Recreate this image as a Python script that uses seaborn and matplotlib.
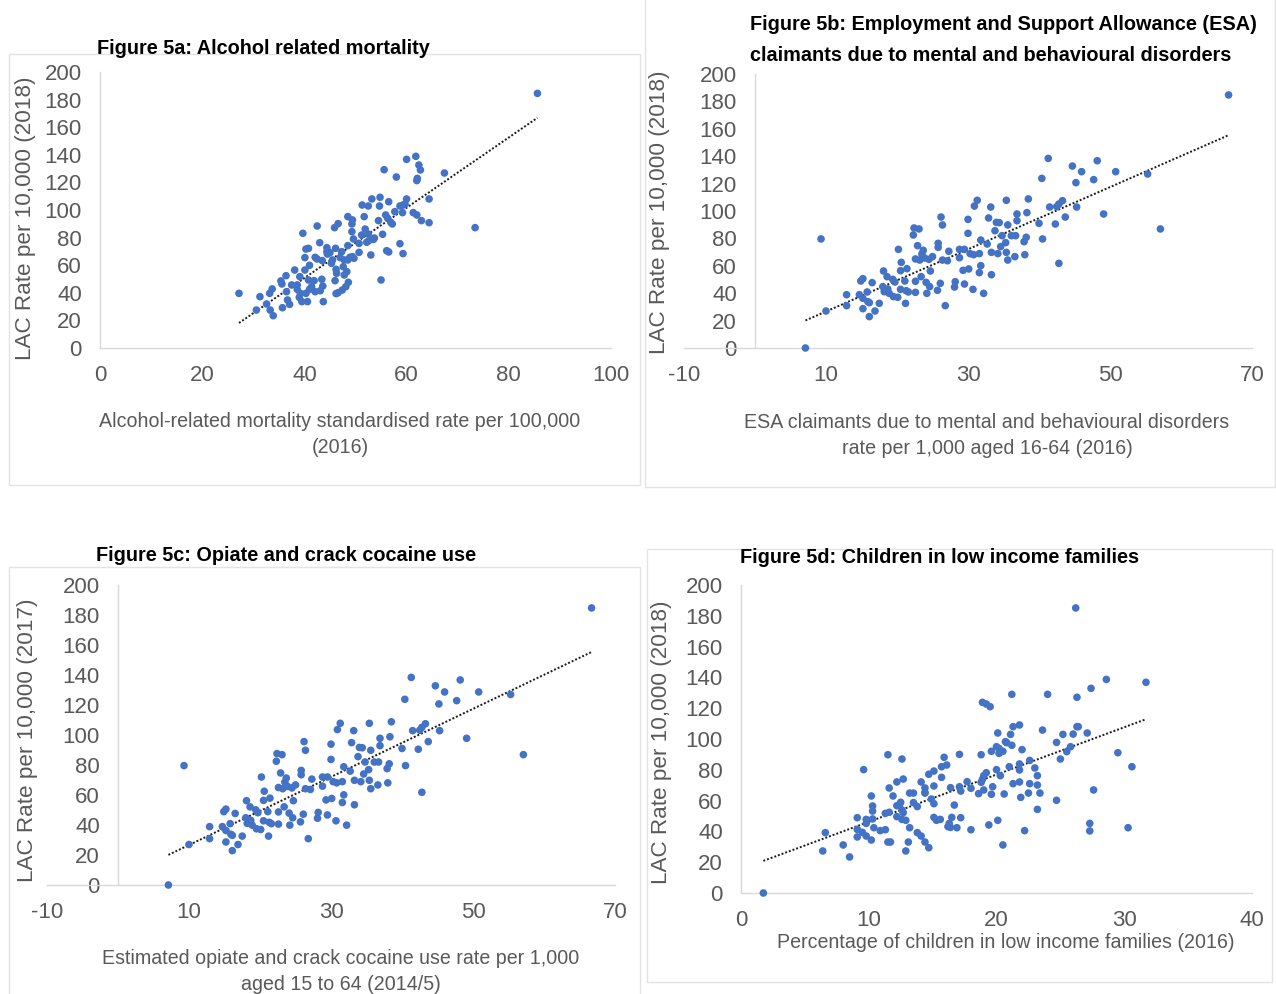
import matplotlib
matplotlib.use("Agg")
import matplotlib.pyplot as plt
from matplotlib import font_manager
from matplotlib.patches import Rectangle
import numpy as np
import pandas as pd
import seaborn as sns

# ---------------- data ----------------
alcohol_rate = [85.6, 60.0, 61.8, 55.6, 62.4, 62.7, 67.4, 58.0, 62.1, 62.0,
                54.8, 53.2, 60.0, 64.4, 51.3, 52.5, 54.7, 56.5, 58.7, 59.3, 59.7,
                48.5, 49.4, 49.3, 51.7, 55.9, 56.3, 57.7, 59.2, 61.3, 62.0, 62.9, 64.4, 56.9, 57.2, 54.5, 42.5, 45.9, 46.6, 73.4,
                39.7, 49.3, 51.9, 51.2, 52.5, 55.3, 53.5, 49.6, 50.7, 52.2, 53.7, 52.6,
                43.0, 58.7, 48.5, 44.4, 46.1, 40.3, 40.8, 45.0, 44.5, 47.3, 53.0, 56.1, 56.5, 59.3, 50.7, 49.4, 49.7,
                40.1, 42.1, 42.5, 43.5, 45.5, 47.0, 47.8, 48.5, 48.9, 45.3,
                41.0, 38.1, 40.1, 46.2, 47.6, 48.3, 47.8, 46.3,
                36.4, 39.1, 35.4, 35.6, 37.5, 38.6, 40.8, 41.9, 43.4, 46.0, 48.6, 55.0,
                33.7, 33.2, 36.5, 38.6, 39.2, 41.0, 42.1, 43.1, 43.6, 48.1, 47.4, 46.6, 46.2,
                27.2, 31.3, 39.0, 39.5, 40.6, 36.7, 43.7, 32.6, 33.3, 30.6, 35.7, 37.1, 33.9,
                40.3, 41.4, 44.4]
alcohol_lac = [184.5, 136.7, 138.9, 129.2, 132.6, 129.0, 126.8, 123.9, 122.9, 121.3,
               109.2, 108.0, 108.0, 108.0, 103.6, 102.9, 102.9, 106.0, 102.9, 103.6, 104.3,
               95.2, 92.8, 89.9, 95.2, 96.4, 94.0, 98.8, 98.1, 98.1, 96.4, 92.3, 90.8, 91.1, 89.9, 92.3, 88.4, 87.2, 90.1, 87.2,
               83.1, 84.3, 86.2, 81.9, 82.6, 82.4, 78.7, 79.0, 75.8, 76.6, 79.7, 77.8,
               76.3, 75.6, 74.2, 72.7, 72.2, 71.7, 72.2, 69.1, 68.1, 69.8, 67.4, 70.5, 69.6, 68.4, 69.3, 66.2, 65.0,
               65.5, 65.7, 64.5, 63.3, 63.8, 65.5, 63.8, 63.8, 65.7, 61.4,
               59.9, 56.5, 56.5, 57.0, 58.9, 55.3, 52.9, 54.1,
               52.4, 51.7, 48.6, 46.4, 45.7, 45.7, 49.3, 48.8, 49.8, 48.8, 47.6, 49.3,
               42.8, 39.6, 40.8, 42.5, 39.6, 42.5, 40.8, 41.5, 44.9, 44.4, 42.0, 40.1, 39.4,
               39.6, 37.2, 36.7, 33.6, 33.6, 34.8, 33.6, 31.9, 27.5, 27.5, 29.2, 31.6, 23.4,
               39.6, 44.4, 69.8]

esa_rate = [7.1, 9.3, 10.0, 41.3, 40.4, 44.7, 46.0, 48.2, 50.8, 55.3, 45.2, 47.7,
            31.3, 30.9, 35.4, 33.2, 38.5, 41.5, 42.8, 43.3, 42.5, 45.3,
            26.2, 26.4, 30.0, 32.9, 34.0, 34.4, 36.9, 38.3, 36.9, 35.6, 40.0, 42.3, 43.7, 49.1, 57.1,
            22.4, 23.1, 22.3, 30.0, 33.8, 34.8, 36.1, 36.7, 38.2, 37.9, 40.5,
            22.9, 25.8, 25.8, 20.2, 27.3, 28.8, 29.5, 31.8, 32.7, 34.6, 35.3, 30.3, 30.8, 31.6, 33.3, 34.2, 35.4, 36.6, 38.0, 42.8,
            23.7, 23.5, 22.6, 23.2, 23.9, 24.5, 25.0, 26.4, 27.1, 28.8, 20.6,
            24.7, 21.4, 20.5, 29.3, 30.1, 31.8, 31.6, 33.3, 35.6,
            18.1, 18.6, 19.4, 19.7, 21.1, 22.6, 23.4, 24.1, 24.6, 26.1, 28.2, 28.1, 29.5, 30.7, 32.2,
            14.9, 15.2, 16.5, 18.0, 18.7, 18.2, 18.9, 19.5, 20.1, 20.5, 21.3, 21.6, 22.6, 24.2, 25.7,
            12.9, 14.7, 15.8, 15.2, 15.9, 16.1, 17.5, 21.2, 26.8,
            12.9, 15.2, 16.9, 16.1,
            66.7]
esa_lac = [0.0, 79.6, 27.0, 138.4, 123.8, 132.8, 128.7, 136.7, 128.7, 127.0, 120.7, 122.9,
           107.8, 103.6, 107.8, 102.9, 108.8, 102.9, 105.1, 107.5, 103.2, 102.9,
           95.6, 89.8, 93.9, 94.9, 91.7, 91.5, 97.8, 98.8, 92.9, 89.8, 91.0, 90.5, 95.6, 97.8, 86.9,
           87.6, 86.9, 82.5, 83.7, 85.6, 82.0, 82.0, 82.0, 80.8, 77.6, 79.6,
           74.7, 76.4, 73.5, 72.0, 70.6, 72.0, 72.0, 78.8, 75.9, 74.0, 76.9, 68.9, 68.1, 68.9, 69.8, 68.9, 69.8, 66.7, 68.1, 61.8,
           71.3, 68.6, 65.0, 64.2, 65.7, 64.7, 66.7, 64.2, 63.7, 65.9, 62.5,
           56.2, 57.9, 56.4, 56.7, 57.7, 60.1, 55.0, 53.5, 64.2,
           56.2, 52.1, 50.1, 48.2, 48.9, 48.7, 52.1, 47.9, 44.8, 47.2, 48.4, 44.5, 46.7, 42.8, 39.9,
           48.9, 50.6, 47.7, 44.8, 43.1, 41.1, 39.9, 37.5, 37.0, 42.8, 41.8, 40.9, 40.6, 39.9, 42.1,
           38.9, 38.9, 40.9, 36.3, 33.8, 33.1, 32.6, 32.6, 30.9,
           30.9, 28.7, 27.0, 22.9,
           184.7]

# Figure 5c in the source shows the very same point cloud as Figure 5b
opiate_rate = list(esa_rate)
opiate_lac = list(esa_lac)

child_pct = [1.75, 26.2, 28.6, 31.7, 27.4, 26.3, 24.0, 21.2, 18.9, 19.2, 19.5,
             21.8, 21.3, 26.3, 26.4, 27.1, 23.6, 25.2, 26.0, 20.1, 21.1, 20.7, 20.8, 21.2, 20.0, 20.2, 20.5, 20.2, 24.7, 25.8,
             25.5, 29.5, 25.0, 30.6, 22.0, 19.6, 18.8, 17.1, 11.5, 12.6,
             15.9, 15.7, 16.1, 14.7, 15.1, 15.7, 19.2, 20.0, 20.3, 21.0, 21.8, 22.6, 23.0, 23.2, 21.8,
             9.6, 12.2, 12.7, 14.1, 15.1, 14.4, 14.4, 16.4, 17.1, 17.7, 18.0, 18.9, 19.0, 18.8, 19.7, 19.6, 19.0, 18.6, 17.2,
             20.6, 21.3, 21.8, 22.6, 23.2, 23.4, 22.5, 21.9, 24.7, 27.6,
             11.6, 10.2, 11.9, 13.2, 13.5, 12.5, 12.4, 12.2, 13.5, 13.8, 14.4, 14.9, 15.1, 16.7, 23.2,
             10.3, 10.3, 11.3, 11.6, 12.6, 12.7, 12.2, 12.6, 12.9, 9.1, 9.8, 9.8, 10.3, 10.4, 10.9, 11.3, 13.2, 13.8, 14.1,
             15.1, 15.3, 15.6, 16.3, 16.5, 16.2, 16.4, 16.9, 17.2, 18.0, 19.4, 20.1, 22.2, 27.3, 27.3, 30.3,
             6.6, 9.1, 9.5, 9.1, 9.8, 10.2, 11.5, 11.7, 13.1, 14.4, 14.7, 12.9, 6.4, 8.0, 8.5, 20.5]
child_lac = [0.0, 185.1, 138.7, 136.8, 132.9, 127.1, 129.0, 129.0, 123.8, 122.7, 121.0,
             109.1, 108.0, 108.0, 108.0, 103.9, 105.8, 103.0, 103.2, 103.9, 103.0, 98.3, 97.6, 95.9, 95.0, 93.9, 92.0, 90.7, 97.8, 95.0,
             91.8, 91.1, 87.0, 82.0, 93.1, 92.0, 89.8, 90.0, 89.8, 87.0,
             88.1, 82.0, 83.1, 77.1, 79.2, 75.1, 78.1, 80.1, 76.2, 82.0, 83.8, 86.1, 81.2, 76.2, 79.9,
             80.1, 72.1, 74.0, 72.1, 69.5, 68.2, 65.2, 68.4, 69.0, 72.3, 68.0, 73.8, 76.2, 71.9, 69.0, 64.1, 66.9, 64.5, 66.2,
             64.3, 71.0, 72.1, 71.0, 70.1, 64.9, 64.9, 62.1, 60.2, 66.9,
             68.2, 63.0, 63.0, 64.9, 64.9, 58.9, 57.1, 56.7, 58.7, 56.1, 64.9, 61.0, 58.0, 57.1, 54.3,
             56.5, 53.2, 51.7, 52.4, 53.9, 52.2, 49.6, 47.8, 47.2, 48.9, 47.8, 45.2, 48.1, 42.4, 40.5, 41.1, 42.4, 39.2, 37.0,
             49.1, 47.2, 47.8, 45.2, 49.1, 43.1, 42.6, 42.4, 48.9, 41.1, 44.2, 47.2, 40.5, 45.2, 40.3, 42.4,
             39.2, 41.3, 39.4, 36.4, 37.0, 34.4, 33.1, 33.1, 33.1, 33.1, 29.4, 27.3, 27.3, 31.2, 23.4, 31.2]

titles = ["Figure 5a: Alcohol related mortality",
          "Figure 5b: Employment and Support Allowance (ESA)\nclaimants due to mental and behavioural disorders",
          "Figure 5c: Opiate and crack cocaine use",
          "Figure 5d: Children in low income families"]
xlabels = ["Alcohol-related mortality standardised rate per 100,000\n(2016)",
           "ESA claimants due to mental and behavioural disorders\nrate per 1,000 aged 16-64 (2016)",
           "Estimated opiate and crack cocaine use rate per 1,000\naged 15 to 64 (2014/5)",
           "Percentage of children in low income families (2016)"]
ylabels = ["LAC Rate per 10,000 (2018)", "LAC Rate per 10,000 (2018)",
           "LAC Rate per 10,000 (2017)", "LAC Rate per 10,000 (2018)"]
xticks_list = [[0, 20, 40, 60, 80, 100], [-10, 10, 30, 50, 70],
               [-10, 10, 30, 50, 70], [0, 10, 20, 30, 40]]
yticks = [0, 20, 40, 60, 80, 100, 120, 140, 160, 180, 200]

# ---------------- style ----------------
sns.set_theme(style="white")
names = {f.name for f in font_manager.fontManager.ttflist}
NARROW_OK = "Liberation Sans Narrow" in names
NARROW = ["Liberation Sans Narrow", "Liberation Sans", "DejaVu Sans"] if NARROW_OK else ["Liberation Sans", "DejaVu Sans"]
REG = ["Liberation Sans", "DejaVu Sans"]
k = 1.0 if NARROW_OK else 0.82
plt.rcParams["font.family"] = NARROW
plt.rcParams["axes.unicode_minus"] = False

BLUE = "#4472C4"
GRID = "#d9d9d9"
TXT = "#595959"
TICK_SIZE = 18.5 if NARROW_OK else 16.0

W, H = 1276, 994
fig = plt.figure(figsize=(W / 100, H / 100), dpi=100)
fig.patch.set_facecolor("white")


def fx(px):
    return px / W


def fy(py):
    return 1 - py / H


# panel frames (pixels: x0, y0, x1, y1)
for x0, y0, x1, y1 in [(9, 54, 640, 485), (645, -2, 1275, 487), (9, 567, 640, 1000), (647, 549, 1272, 982)]:
    fig.patches.append(Rectangle((fx(x0), fy(y1)), (x1 - x0) / W, (y1 - y0) / H,
                                 transform=fig.transFigure, fill=False,
                                 edgecolor="#e3e3e3", linewidth=1.0, zorder=0))

datasets = [(alcohol_rate, alcohol_lac), (esa_rate, esa_lac),
            (opiate_rate, opiate_lac), (child_pct, child_lac)]
# axes pixel boxes: left, top, right, bottom (data-area)
boxes = [(100, 72, 611, 348), (684, 74, 1252, 348), (47, 585, 615, 885), (741, 585, 1252, 893)]
xlims = [(0, 100), (-10, 70), (-10, 70), (0, 40)]
yaxis_at_zero = [False, True, True, False]

title_pos = [(97, 54), (750, 30), (96, 561), (740, 563)]
xlabel_pos = [(340, [427, 453]), (987, [428, 454]), (341, [964, 990]), (1006, [948])]
ylabel_pos = [(26, 218), (660, 212), (28, 740), (662, 742)]

for i in range(4):
    xs, ys = datasets[i]
    df = pd.DataFrame({"x": xs, "y": ys})
    l, t, r, b = boxes[i]
    ax = fig.add_axes([fx(l), fy(b), (r - l) / W, (b - t) / H])
    ax.set_facecolor("none")
    sns.regplot(data=df, x="x", y="y", ax=ax, scatter=False, ci=None, truncate=True,
                line_kws=dict(color="#1a1a1a", linewidth=1.4, linestyle=(0, (1, 1)), zorder=2))
    sns.scatterplot(data=df, x="x", y="y", ax=ax, color=BLUE, s=30, edgecolor="none",
                    linewidth=0, zorder=3, clip_on=False, legend=False)
    ax.set_xlim(*xlims[i])
    ax.set_ylim(0, 200)
    ax.set_xticks(xticks_list[i])
    ax.set_yticks(yticks)
    ax.set_xlabel("")
    ax.set_ylabel("")
    for s in ["top", "right"]:
        ax.spines[s].set_visible(False)
    for s in ["left", "bottom"]:
        ax.spines[s].set_color(GRID)
        ax.spines[s].set_linewidth(1.0)
    if yaxis_at_zero[i]:
        ax.spines["left"].set_position(("data", 0))
    ax.tick_params(axis="both", direction="out", length=5, width=1, color=GRID,
                   labelcolor=TXT, labelsize=TICK_SIZE)
    ax.tick_params(axis="x", pad=7)
    ax.tick_params(axis="y", pad=8)
    for lab in ax.get_xticklabels() + ax.get_yticklabels():
        lab.set_family(NARROW)

    # title
    tx, ty = title_pos[i]
    lines = titles[i].split("\n")
    for j, line in enumerate(lines):
        fig.text(fx(tx), fy(ty + 31 * j), line, ha="left", va="baseline",
                 fontsize=17.5 * k, fontweight="bold", color="black", family=NARROW)
    # x label
    cx, bls = xlabel_pos[i]
    for line, bl in zip(xlabels[i].split("\n"), bls):
        fig.text(fx(cx), fy(bl), line, ha="center", va="baseline",
                 fontsize=17.2 * k, color=TXT, family=NARROW)
    # y label
    yx, yy = ylabel_pos[i]
    fig.text(fx(yx), fy(yy), ylabels[i], ha="center", va="center", rotation=90,
             fontsize=16.2, color=TXT, family=REG)

fig.savefig("out.png", dpi=100, facecolor="white")
